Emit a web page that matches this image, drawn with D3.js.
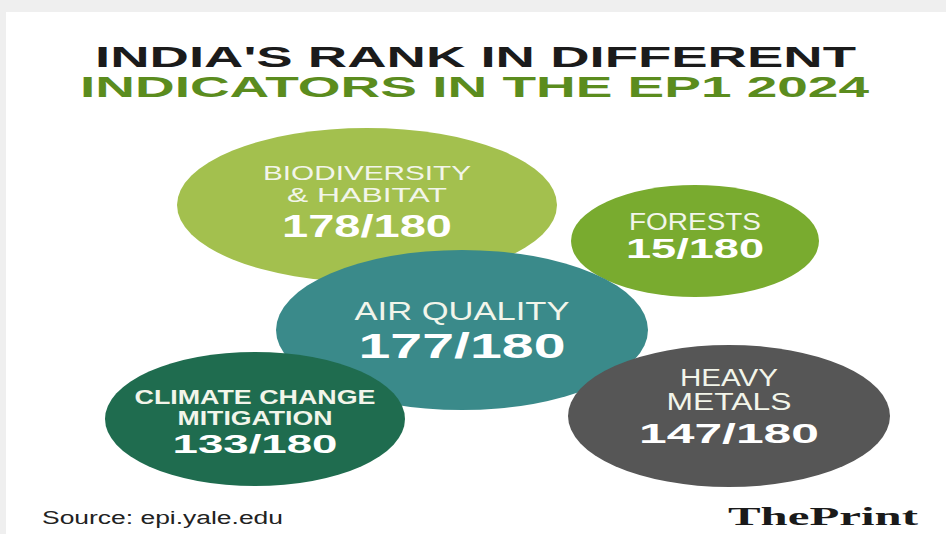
<!DOCTYPE html>
<html>
<head>
<meta charset="utf-8">
<script src="https://cdn.jsdelivr.net/npm/d3@7"></script>
<style>
  html, body { margin: 0; padding: 0; background: #efefef; }
  svg { display: block; }
</style>
</head>
<body>
<div id="chart"></div>
<script>
// Data
const indicators = ["BIODIVERSITY|& HABITAT", "FORESTS", "AIR QUALITY", "CLIMATE CHANGE|MITIGATION", "HEAVY|METALS"];
const ranks = [178, 15, 177, 133, 147];
const totalCountries = 180;
const titleLines = ["INDIA'S RANK IN DIFFERENT", "INDICATORS IN THE EP1 2024"];
const sourceText = "Source: epi.yale.edu";

// Layout (bubble centres, radii, text offsets in px) kept apart from the data
const bubbleLayout = [
  { cx: 367, cy: 205, rx: 190, ry: 77, fill: "#a3c04e", labelSize: 21, numSize: 31, labelDy: [-25, -3], numDy: 32, labelW: [208, 160], numW: 170, bold: false },
  { cx: 695, cy: 241, rx: 124, ry: 56, fill: "#79ab2f", labelSize: 24, numSize: 28, labelDy: [-11], numDy: 17, labelW: [132], numW: 138, bold: false },
  { cx: 462, cy: 330, rx: 186, ry: 80, fill: "#3a8a8a", labelSize: 25, numSize: 35, labelDy: [-10], numDy: 28, labelW: [215], numW: 207, bold: false },
  { cx: 255, cy: 419, rx: 150, ry: 67, fill: "#1f6c4f", labelSize: 20, numSize: 26, labelDy: [-15, 6], numDy: 34, labelW: [241, 155], numW: 165, bold: true },
  { cx: 729, cy: 416, rx: 161, ry: 71, fill: "#565656", labelSize: 23, numSize: 28, labelDy: [-30, -6], numDy: 27, labelW: [98, 125], numW: 180, bold: false }
];

const width = 946, height = 534;

const svg = d3.select("#chart").append("svg")
  .attr("width", width)
  .attr("height", height)
  .style("font-family", "'Liberation Sans', Arial, sans-serif");

// white card
svg.append("rect")
  .attr("x", 6).attr("y", 12)
  .attr("width", width - 6).attr("height", height - 12)
  .attr("fill", "#ffffff");

// title
const titleColors = ["#1b1b1b", "#5b8c1e"];
const titleY = [67, 97];
const titleX = [[95, 856], [80, 869]];
svg.selectAll(".title")
  .data(titleLines)
  .join("text")
  .attr("class", "title")
  .attr("x", (d, i) => titleX[i][0])
  .attr("y", (d, i) => titleY[i])
  .attr("textLength", (d, i) => titleX[i][1] - titleX[i][0])
  .attr("lengthAdjust", "spacingAndGlyphs")
  .attr("fill", (d, i) => titleColors[i])
  .style("font-size", "29px")
  .style("font-weight", "bold")
  .text(d => d);

// bubbles
const bubbles = indicators.map((name, i) => ({
  lines: name.split("|"),
  rank: ranks[i],
  ...bubbleLayout[i]
}));

const g = svg.selectAll(".bubble")
  .data(bubbles)
  .join("g")
  .attr("class", "bubble");

g.append("ellipse")
  .attr("cx", d => d.cx)
  .attr("cy", d => d.cy)
  .attr("rx", d => d.rx)
  .attr("ry", d => d.ry)
  .attr("fill", d => d.fill);

g.each(function(d) {
  const sel = d3.select(this);
  d.lines.forEach((line, j) => {
    sel.append("text")
      .attr("x", d.cx)
      .attr("y", d.cy + d.labelDy[j])
      .attr("text-anchor", "middle")
      .attr("fill", "#f2f5ea")
      .attr("textLength", d.labelW[j])
      .attr("lengthAdjust", "spacingAndGlyphs")
      .style("font-size", d.labelSize + "px")
      .style("font-weight", d.bold ? "bold" : "normal")
      .text(line);
  });
  sel.append("text")
    .attr("x", d.cx)
    .attr("y", d.cy + d.numDy)
    .attr("text-anchor", "middle")
    .attr("fill", "#ffffff")
    .attr("textLength", d.numW)
    .attr("lengthAdjust", "spacingAndGlyphs")
    .style("font-size", d.numSize + "px")
    .style("font-weight", "bold")
    .text(`${d.rank}/${totalCountries}`);
});

// source
svg.append("text")
  .attr("x", 42)
  .attr("y", 524)
  .attr("fill", "#222")
  .attr("textLength", 241)
  .attr("lengthAdjust", "spacingAndGlyphs")
  .style("font-size", "18px")
  .style("font-family", "'Liberation Sans Narrow', 'Liberation Sans', sans-serif")
  .text(sourceText);

// logo
const logo = svg.append("text")
  .attr("x", 728)
  .attr("y", 525)
  .attr("fill", "#1a1a1a")
  .attr("textLength", 190)
  .attr("lengthAdjust", "spacingAndGlyphs")
  .style("font-family", "'Liberation Serif', 'DejaVu Serif', serif")
  .style("font-size", "25px");
logo.append("tspan").style("font-weight", "bold").text("The");
logo.append("tspan").style("font-weight", "900").text("Print");
</script>
</body>
</html>
